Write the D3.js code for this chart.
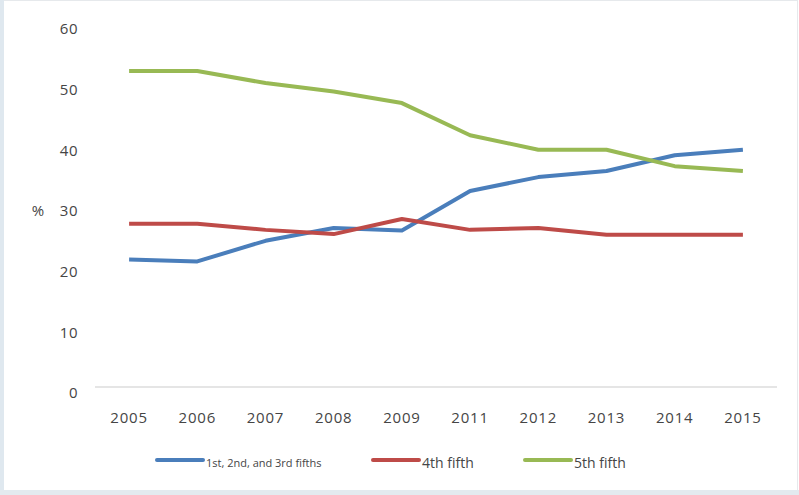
<!DOCTYPE html>
<html>
<head>
<meta charset="utf-8">
<script src="https://cdn.jsdelivr.net/npm/d3@7"></script>
<style>
  body { margin: 0; background: #fff; }
  text { font-family: "Open Sans", sans-serif; fill: #454545; }
</style>
</head>
<body>
<script>
// chart values
const years = ["2005", "2006", "2007", "2008", "2009", "2011", "2012", "2013", "2014", "2015"];
const lowerThree = [21.0, 20.7, 24.1, 26.2, 25.8, 32.3, 34.6, 35.6, 38.2, 39.1];
const fourthFifth = [26.9, 26.9, 25.9, 25.2, 27.7, 25.9, 26.2, 25.1, 25.1, 25.1];
const fifthFifth = [52.1, 52.1, 50.1, 48.7, 46.8, 41.5, 39.1, 39.1, 36.4, 35.6];
const yTicks = [0, 10, 20, 30, 40, 50, 60];

const series = [
  { name: "1st, 2nd, and 3rd fifths", values: lowerThree, color: "#4a7ebb", size: 11 },
  { name: "4th fifth", values: fourthFifth, color: "#be4b48", size: 14 },
  { name: "5th fifth", values: fifthFifth, color: "#98b954", size: 14 }
];

const width = 799, height = 495;

const svg = d3.select("body").append("svg")
  .attr("width", width)
  .attr("height", height);

// frame around the picture
svg.append("rect")
  .attr("x", 0.5).attr("y", 0.5)
  .attr("width", width - 2).attr("height", height - 1)
  .attr("fill", "none")
  .attr("stroke", "#e6e9ec");
svg.append("rect")
  .attr("x", 0).attr("y", 0).attr("width", 4).attr("height", height)
  .attr("fill", "#dfe8ef");
svg.append("rect")
  .attr("x", 0).attr("y", 490).attr("width", width).attr("height", 5)
  .attr("fill", "#e3eaef");

const xScale = d3.scaleBand()
  .domain(years)
  .range([95, 777]);

const yScale = d3.scaleLinear()
  .domain([0, 60])
  .range([387, 23]);

// x axis baseline
svg.append("line")
  .attr("x1", xScale.range()[0]).attr("x2", xScale.range()[1])
  .attr("y1", yScale(0)).attr("y2", yScale(0))
  .attr("stroke", "#dcdcdc")
  .attr("stroke-width", 1.5);

// y tick labels
svg.append("g")
  .selectAll("text")
  .data(yTicks)
  .join("text")
  .attr("x", 78)
  .attr("y", d => yScale(d) + 6)
  .attr("dy", "0.35em")
  .attr("text-anchor", "end")
  .style("font-size", "15px")
  .style("letter-spacing", "0.5px")
  .text(d => d);

svg.append("text")
  .attr("x", 38)
  .attr("y", 211)
  .attr("dy", "0.35em")
  .attr("text-anchor", "middle")
  .style("font-size", "15px")
  .text("%");

// x tick labels
svg.append("g")
  .selectAll("text")
  .data(years)
  .join("text")
  .attr("x", d => xScale(d) + xScale.bandwidth() / 2)
  .attr("y", 418)
  .attr("dy", "0.35em")
  .attr("text-anchor", "middle")
  .style("font-size", "15px")
  .style("letter-spacing", "0.8px")
  .text(d => d);

const line = d3.line()
  .x((d, i) => xScale(years[i]) + xScale.bandwidth() / 2)
  .y(d => yScale(d));

series.forEach(s => {
  svg.append("path")
    .datum(s.values)
    .attr("d", line)
    .attr("fill", "none")
    .attr("stroke", s.color)
    .attr("stroke-width", 4)
    .attr("stroke-linejoin", "round");
});

// legend
const legendX = [157, 373, 525];
series.forEach((s, i) => {
  const g = svg.append("g").attr("transform", `translate(${legendX[i]},460)`);
  g.append("line")
    .attr("x1", 0).attr("x2", 46)
    .attr("y1", 0).attr("y2", 0)
    .attr("stroke", s.color)
    .attr("stroke-width", 4)
    .attr("stroke-linecap", "round");
  g.append("text")
    .attr("x", 49)
    .attr("y", 3)
    .attr("dy", "0.35em")
    .style("font-size", s.size + "px")
    .text(s.name);
});
</script>
</body>
</html>
